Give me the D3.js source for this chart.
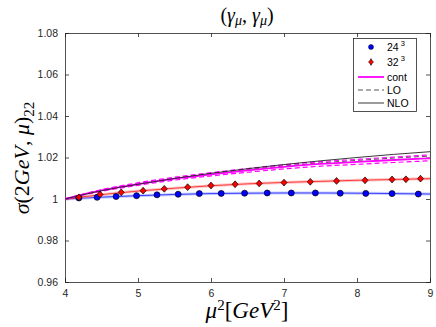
<!DOCTYPE html>
<html><head><meta charset="utf-8">
<script src="https://cdn.jsdelivr.net/npm/d3@7"></script>
<style>body{margin:0;background:#fff}svg{display:block}</style>
</head><body>
<script>
// ---- data ----
const xTicks = [4,5,6,7,8,9];
const yTicks = [0.96,0.98,1,1.02,1.04,1.06,1.08];
const yTickLabels = ["0.96","0.98","1","1.02","1.04","1.06","1.08"];

const blueX = [4.19,4.44,4.70,4.98,5.26,5.55,5.84,6.14,6.46,6.77,7.10,7.43,7.77,8.12,8.48,8.84];
const blueY = [1.0005,1.0008,1.0012,1.0016,1.0020,1.0023,1.0026,1.0027,1.0028,1.0029,1.0029,1.0029,1.0028,1.0027,1.0026,1.0024];
const blueErr = [0.0003,0.0003,0.0003,0.0003,0.0003,0.0003,0.0003,0.0003,0.0003,0.0003,0.0003,0.0003,0.0003,0.0003,0.0003,0.0003];

const redX = [4.19,4.48,4.77,5.07,5.36,5.68,6.00,6.33,6.66,7.00,7.36,7.72,8.11,8.48,8.67,8.87];
const redY = [1.0008,1.0022,1.0032,1.0040,1.0049,1.0057,1.0065,1.0071,1.0075,1.0079,1.0083,1.0087,1.0090,1.0094,1.0095,1.0098];
const redErr = [0.0007,0.0007,0.0007,0.0007,0.0007,0.0007,0.0007,0.0007,0.0007,0.0007,0.0007,0.0007,0.0007,0.0007,0.0007,0.0007];

const gridX = [4,4.5,5,5.5,6,6.5,7,7.5,8,8.5,9];
const blueFit = [1.0,1.0009,1.0016,1.0022,1.0026,1.0028,1.0029,1.0029,1.0028,1.0026,1.0024];
const redFit  = [1.0,1.0021,1.0038,1.0052,1.0064,1.0073,1.0080,1.0085,1.0090,1.0094,1.0098];
const nlo     = [1.0,1.0040,1.0071,1.0099,1.0124,1.0146,1.0166,1.0184,1.0200,1.0215,1.0228];
const lo      = [1.0,1.0043,1.0075,1.0101,1.0123,1.0142,1.0159,1.0174,1.0186,1.0197,1.0207];
const cont    = [1.0,1.0041,1.0072,1.0098,1.0119,1.0138,1.0155,1.0169,1.0179,1.0188,1.0196];
const contHi  = [1.0,1.0045,1.0078,1.0105,1.0127,1.0147,1.0165,1.0180,1.0191,1.0202,1.0212];
const contLo  = [1.0,1.0037,1.0066,1.0091,1.0111,1.0129,1.0145,1.0158,1.0167,1.0176,1.0184];

// ---- layout ----
const W = 436, H = 327;
const L = 65, R = 430, T = 33, B = 282;
const svg = d3.select("body").append("svg").attr("width", W).attr("height", H);

const x = d3.scaleLinear().domain([4,9]).range([L,R]);
const y = d3.scaleLinear().domain([0.96,1.08]).range([B,T]);

const axisColor = "#262626";
const tickFont = "Liberation Sans, Arial, sans-serif";

const gx = svg.append("g").attr("transform",`translate(0,${B})`)
  .call(d3.axisBottom(x).tickValues(xTicks).tickSize(-4).tickPadding(8).tickFormat(d3.format("d")));
const gxt = svg.append("g").attr("transform",`translate(0,${T})`)
  .call(d3.axisTop(x).tickValues(xTicks).tickSize(-4).tickFormat(""));
const gy = svg.append("g").attr("transform",`translate(${L},0)`)
  .call(d3.axisLeft(y).tickValues(yTicks).tickSize(-4).tickPadding(7).tickFormat((d,i)=>yTickLabels[i]));
const gyr = svg.append("g").attr("transform",`translate(${R},0)`)
  .call(d3.axisRight(y).tickValues(yTicks).tickSize(-4).tickFormat(""));
[gx,gxt,gy,gyr].forEach(g=>{
  g.select(".domain").attr("stroke",axisColor).attr("stroke-width",0.8);
  g.selectAll(".tick line").attr("stroke",axisColor).attr("stroke-width",0.8);
  g.selectAll(".tick text").attr("fill",axisColor).style("font-family",tickFont).style("font-size","10.5px");
});

svg.append("clipPath").attr("id","c").append("rect").attr("x",L).attr("y",T).attr("width",R-L).attr("height",B-T);
const plot = svg.append("g").attr("clip-path","url(#c)");

const line = d3.line().x((d,i)=>x(gridX[i])).y(d=>y(d)).curve(d3.curveMonotoneX);

// fit bands
plot.append("path").attr("d",line(blueFit)).attr("fill","none").attr("stroke","rgba(110,130,255,0.4)").attr("stroke-width",3);
plot.append("path").attr("d",line(blueFit)).attr("fill","none").attr("stroke","#0000ff").attr("stroke-width",0.7);
plot.append("path").attr("d",line(redFit)).attr("fill","none").attr("stroke","rgba(255,110,110,0.4)").attr("stroke-width",3);
plot.append("path").attr("d",line(redFit)).attr("fill","none").attr("stroke","#ff0000").attr("stroke-width",0.7);

// theory curves
plot.append("path").attr("d",line(lo)).attr("fill","none").attr("stroke","#555").attr("stroke-width",1).attr("stroke-dasharray","5,3");
plot.append("path").attr("d",line(contHi)).attr("fill","none").attr("stroke","#ff00ff").attr("stroke-width",1.2).attr("stroke-dasharray","5,3");
plot.append("path").attr("d",line(contLo)).attr("fill","none").attr("stroke","#ff00ff").attr("stroke-width",1.2).attr("stroke-dasharray","5,3");
plot.append("path").attr("d",line(cont)).attr("fill","none").attr("stroke","#ff00ff").attr("stroke-width",1.8);
plot.append("path").attr("d",line(nlo)).attr("fill","none").attr("stroke","#222").attr("stroke-width",0.9);

// data points with error bars
function errbars(xs, ys, es){
  xs.forEach((xv,i)=>{
    plot.append("line").attr("x1",x(xv)).attr("x2",x(xv)).attr("y1",y(ys[i]-es[i])).attr("y2",y(ys[i]+es[i]))
      .attr("stroke","#000").attr("stroke-width",1);
  });
}
errbars(blueX, blueY, blueErr);
errbars(redX, redY, redErr);
plot.selectAll("circle.b").data(blueX).enter().append("circle")
  .attr("cx",d=>x(d)).attr("cy",(d,i)=>y(blueY[i])).attr("r",3)
  .attr("fill","#0000ff").attr("stroke","#000").attr("stroke-width",0.7);
const dia = (w,h)=>`M0,${-h}L${w},0L0,${h}L${-w},0Z`;
plot.selectAll("path.r").data(redX).enter().append("path")
  .attr("d",dia(3,3.4)).attr("transform",(d,i)=>`translate(${x(d)},${y(redY[i])})`)
  .attr("fill","#ff0000").attr("stroke","#000").attr("stroke-width",0.7);

// legend
const lg = svg.append("g");
lg.append("rect").attr("x",353.5).attr("y",38.5).attr("width",63).attr("height",73)
  .attr("fill","#fff").attr("stroke",axisColor).attr("stroke-width",0.8);
const rows = [47,62,77,90,103];
const lf = "Liberation Sans, Arial, sans-serif";
lg.append("circle").attr("cx",371).attr("cy",rows[0]).attr("r",2.5).attr("fill","#0000ff").attr("stroke","#000").attr("stroke-width",0.5);
lg.append("line").attr("x1",371).attr("x2",371).attr("y1",rows[1]-3.5).attr("y2",rows[1]+3.5).attr("stroke","#000");
lg.append("path").attr("d",dia(2.5,2.8)).attr("transform",`translate(371,${rows[1]})`).attr("fill","#ff0000").attr("stroke","#000").attr("stroke-width",0.5);
lg.append("line").attr("x1",358).attr("x2",384).attr("y1",rows[2]).attr("y2",rows[2]).attr("stroke","#ff00ff").attr("stroke-width",1.8);
lg.append("line").attr("x1",358).attr("x2",384).attr("y1",rows[3]).attr("y2",rows[3]).attr("stroke","#555").attr("stroke-width",1).attr("stroke-dasharray","5,3");
lg.append("line").attr("x1",358).attr("x2",384).attr("y1",rows[4]).attr("y2",rows[4]).attr("stroke","#222").attr("stroke-width",0.9);
const legLabels = [["24","3"],["32","3"],["cont",""],["LO",""],["NLO",""]];
legLabels.forEach((lab,i)=>{
  const t = lg.append("text").attr("x",387).attr("y",rows[i]+4).attr("fill","#000")
    .style("font-family",lf).style("font-size","10.5px");
  t.append("tspan").text(lab[0]);
  if(lab[1]) t.append("tspan").attr("dx",2).attr("dy",-5).style("font-size","7.5px").text(lab[1]);
});

// title
const mf = "Liberation Serif, 'DejaVu Serif', serif";
const title = svg.append("text").attr("x",247).attr("y",22).attr("text-anchor","middle")
  .style("font-family",mf).style("font-size","20px").attr("fill","#000");
title.append("tspan").text("(");
title.append("tspan").style("font-style","italic").text("γ");
title.append("tspan").attr("dy",3).style("font-style","italic").style("font-size","14px").text("μ");
title.append("tspan").attr("dy",-3).text(", ");
title.append("tspan").style("font-style","italic").text("γ");
title.append("tspan").attr("dy",3).style("font-style","italic").style("font-size","14px").text("μ");
title.append("tspan").attr("dy",-3).text(")");

// x label
const xl = svg.append("text").attr("x",247).attr("y",318).attr("text-anchor","middle")
  .style("font-family",mf).style("font-size","23px").attr("fill","#000");
xl.append("tspan").style("font-style","italic").text("μ");
xl.append("tspan").attr("dy",-8).style("font-size","15px").text("2");
xl.append("tspan").attr("dy",8).text("[");
xl.append("tspan").style("font-style","italic").text("GeV");
xl.append("tspan").attr("dy",-8).style("font-size","15px").text("2");
xl.append("tspan").attr("dy",8).text("]");

// y label
const yl = svg.append("text").attr("transform","translate(29,158) rotate(-90)").attr("text-anchor","middle")
  .style("font-family",mf).style("font-size","22px").attr("fill","#000");
yl.append("tspan").style("font-style","italic").text("σ");
yl.append("tspan").text("(2");
yl.append("tspan").style("font-style","italic").text("GeV");
yl.append("tspan").text(", ");
yl.append("tspan").style("font-style","italic").text("μ");
yl.append("tspan").text(")");
yl.append("tspan").attr("dy",5).style("font-size","15px").text("22");
</script>
</body></html>
